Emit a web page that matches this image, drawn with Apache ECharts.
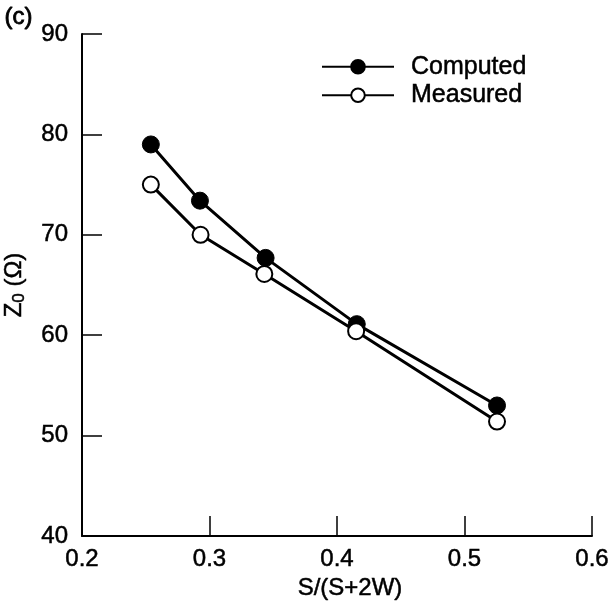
<!DOCTYPE html>
<html>
<head>
<meta charset="utf-8">
<script src="https://cdn.jsdelivr.net/npm/echarts@6/dist/echarts.min.js"></script>
<style>html,body{margin:0;padding:0;background:#fff;}#c{width:612px;height:603px;}</style>
</head>
<body>
<div id="c"></div>
<script>
const xComputed = [0.254, 0.2925, 0.344, 0.4155, 0.5255];
const computed = [79.0, 73.4, 67.7, 61.1, 53.0];
const xMeasured = [0.254, 0.293, 0.343, 0.415, 0.5255];
const measured = [75.0, 70.0, 66.1, 60.4, 51.4];
const xTicks = [0.2, 0.3, 0.4, 0.5, 0.6];
const yTicks = [40, 50, 60, 70, 80, 90];

const FONT = 'Liberation Sans, Arial, Helvetica, sans-serif';
const HEAVY = {textBorderColor: '#000', textBorderWidth: 0.5};
const chart = echarts.init(document.getElementById('c'), null, {renderer: 'canvas'});
const pairs = (xs, ys) => xs.map((x, i) => [x, ys[i]]);
chart.setOption({
  animation: false,
  backgroundColor: '#fff',
  textStyle: {fontFamily: FONT, color: '#000'},
  grid: {left: 82, top: 34, width: 510, height: 502, containLabel: false, outerBoundsMode: 'none'},
  legend: {
    left: 316, top: 49, orient: 'vertical',
    itemWidth: 72, itemHeight: 17, itemGap: 3,
    textStyle: Object.assign({fontSize: 25, fontFamily: FONT, color: '#000', padding: [0, 0, 0, 12]}, HEAVY),
    data: ['Computed', 'Measured']
  },
  graphic: [{
    type: 'text', left: 4, top: 5,
    style: {text: '(c)', font: '24px ' + FONT, fill: '#000', stroke: '#000', lineWidth: 0.8}
  }],
  xAxis: {
    type: 'value', min: xTicks[0], max: xTicks[xTicks.length - 1], interval: 0.1,
    name: 'S/(S+2W)', nameLocation: 'middle', nameGap: 39,
    nameTextStyle: Object.assign({fontSize: 24, fontFamily: FONT, color: '#000', padding: [0, 0, 0, 26]}, HEAVY),
    axisLine: {lineStyle: {color: '#000', width: 2}},
    axisTick: {inside: true, length: 20, lineStyle: {color: '#000', width: 1.5}},
    axisLabel: Object.assign({fontSize: 24, fontFamily: FONT, color: '#000', margin: 11, formatter: v => v.toFixed(1)}, HEAVY),
    splitLine: {show: false}
  },
  yAxis: {
    type: 'value', min: yTicks[0], max: yTicks[yTicks.length - 1], interval: 10,
    name: '{z|Z}{s|0}{z| (Ω)}', nameLocation: 'middle', nameGap: 54, nameRotate: 90,
    nameTextStyle: {
      fontSize: 24, fontFamily: FONT, color: '#000',
      rich: {
        z: Object.assign({fontSize: 24, fontFamily: FONT, color: '#000'}, HEAVY),
        s: Object.assign({fontSize: 17, fontFamily: FONT, color: '#000', padding: [10, 0, 0, 0]}, HEAVY)
      }
    },
    axisLine: {lineStyle: {color: '#000', width: 2}},
    axisTick: {inside: true, length: 20, lineStyle: {color: '#000', width: 1.5}},
    axisLabel: Object.assign({fontSize: 24, fontFamily: FONT, color: '#000', margin: 14}, HEAVY),
    splitLine: {show: false}
  },
  series: [
    {
      name: 'Computed', type: 'line', data: pairs(xComputed, computed),
      symbol: 'circle', symbolSize: 17,
      lineStyle: {color: '#000', width: 3},
      itemStyle: {color: '#000', borderColor: '#000', borderWidth: 1}
    },
    {
      name: 'Measured', type: 'line', data: pairs(xMeasured, measured),
      symbol: 'circle', symbolSize: 16,
      lineStyle: {color: '#000', width: 3},
      itemStyle: {color: '#fff', borderColor: '#000', borderWidth: 2}
    }
  ]
});
</script>
</body>
</html>
